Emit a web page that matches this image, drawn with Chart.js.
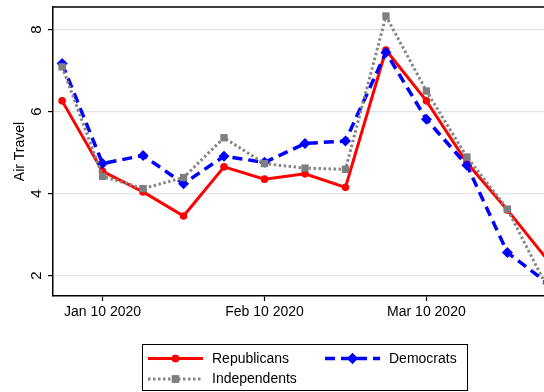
<!DOCTYPE html>
<html>
<head>
<meta charset="utf-8">
<script src="https://cdn.jsdelivr.net/npm/chart.js@4.4.1/dist/chart.umd.min.js"></script>
<style>
  html, body { margin: 0; padding: 0; background: #fff; overflow: hidden; }
  #wrap { width: 575px; height: 392px; }
</style>
</head>
<body>
<div id="wrap"><canvas id="chart" width="575" height="392"></canvas></div>
<script>
// Survey period index (x) and mean air-travel score per party
const periods = [0, 1, 2, 3, 4, 5, 6, 7, 8, 9, 10, 11, 12];
const republicans  = [6.26, 4.54, 4.04, 3.45, 4.65, 4.35, 4.48, 4.15, 7.50, 6.26, 4.75, 3.60, 2.37];
const democrats    = [7.17, 4.73, 4.93, 4.24, 4.91, 4.76, 5.22, 5.28, 7.44, 5.81, 4.69, 2.56, 1.81];
const independents = [7.09, 4.42, 4.12, 4.39, 5.36, 4.73, 4.62, 4.59, 8.33, 6.50, 4.89, 3.62, 1.68];

// Axis ticks
const dateTickPeriods = [1, 5, 9];
const dateTickLabels = ['Jan 10 2020', 'Feb 10 2020', 'Mar 10 2020'];
const airTravelTicks = [2, 4, 6, 8];

const FONT = "'Liberation Sans', Arial, Helvetica, sans-serif";

function toPoints(values) {
  return periods.map((p, i) => ({ x: p, y: values[i] }));
}

const datasets = [
  {
    label: 'Republicans',
    data: toPoints(republicans),
    borderColor: '#ff0000',
    backgroundColor: '#ff0000',
    borderWidth: 3,
    pointStyle: 'circle',
    pointRadius: 3.8,
    pointBorderWidth: 0,
    order: 3
  },
  {
    label: 'Democrats',
    data: toPoints(democrats),
    borderColor: '#0000ff',
    backgroundColor: '#0000ff',
    borderWidth: 3.5,
    borderDash: [10, 6],
    pointStyle: 'rectRot',
    pointRadius: 5.5,
    pointBorderWidth: 0,
    order: 2
  },
  {
    label: 'Independents',
    data: toPoints(independents),
    borderColor: '#868686',
    backgroundColor: '#7f7f7f',
    borderWidth: 3,
    borderDash: [2.5, 2.5],
    pointStyle: 'rect',
    pointRadius: 5.2,
    pointBorderWidth: 0,
    order: 1
  }
];

// Top edge of the plot frame
const framePlugin = {
  id: 'frame',
  afterDatasetsDraw(chart) {
    const { ctx, chartArea } = chart;
    ctx.save();
    ctx.strokeStyle = '#000';
    ctx.lineWidth = 1.5;
    ctx.beginPath();
    ctx.moveTo(chartArea.left, chartArea.top);
    ctx.lineTo(chartArea.right, chartArea.top);
    ctx.stroke();
    ctx.restore();
  }
};

// Boxed two-column legend under the plot
const boxLegendPlugin = {
  id: 'boxLegend',
  afterDraw(chart) {
    const ctx = chart.ctx;
    const box = { x: 142.5, y: 344.5, w: 325, h: 46 };
    const colX = [148, 325];
    const rowY = [358.5, 379];
    const sampleW = 55;
    const slots = [[0, 0], [1, 0], [0, 1]];
    ctx.save();
    ctx.strokeStyle = '#000';
    ctx.lineWidth = 1;
    ctx.strokeRect(box.x, box.y, box.w, box.h);
    chart.data.datasets.forEach((ds, i) => {
      const [c, r] = slots[i];
      const x0 = colX[c], y = rowY[r];
      ctx.save();
      ctx.strokeStyle = ds.borderColor;
      ctx.lineWidth = ds.borderWidth;
      ctx.setLineDash(ds.borderDash || []);
      ctx.beginPath();
      ctx.moveTo(x0, y);
      ctx.lineTo(x0 + sampleW, y);
      ctx.stroke();
      ctx.restore();
      ctx.fillStyle = ds.backgroundColor;
      Chart.helpers.drawPoint(ctx, {
        pointStyle: ds.pointStyle,
        radius: ds.pointRadius,
        rotation: 0,
        borderWidth: 0
      }, x0 + sampleW / 2, y);
      ctx.fill();
      ctx.fillStyle = '#000';
      ctx.font = '14px ' + FONT;
      ctx.textBaseline = 'middle';
      ctx.textAlign = 'left';
      ctx.fillText(ds.label, x0 + sampleW + 9, y + 0.5);
    });
    ctx.restore();
  }
};

function noEdgePadding(scale) {
  scale.paddingTop = 0;
  scale.paddingBottom = 0;
  scale.paddingLeft = 0;
  scale.paddingRight = 0;
}

new Chart(document.getElementById('chart'), {
  type: 'line',
  data: { datasets },
  options: {
    responsive: false,
    animation: false,
    layout: { padding: { top: 7, right: 15, bottom: 0, left: 0 } },
    plugins: {
      legend: { display: false },
      tooltip: { enabled: false }
    },
    scales: {
      x: {
        type: 'linear',
        min: -0.225,
        max: 12.3,
        afterBuildTicks(scale) {
          scale.ticks = dateTickPeriods.map(v => ({ value: v }));
        },
        afterFit(scale) { scale.height = 96; noEdgePadding(scale); },
        grid: {
          drawOnChartArea: false,
          tickLength: 5,
          tickColor: '#000',
          tickWidth: 1.2
        },
        border: { display: true, color: '#000', width: 1.5 },
        ticks: {
          autoSkip: false,
          maxRotation: 0,
          padding: 3,
          color: '#000',
          font: { family: FONT, size: 14 },
          callback(value) {
            const k = dateTickPeriods.indexOf(value);
            return k >= 0 ? dateTickLabels[k] : '';
          }
        }
      },
      y: {
        type: 'linear',
        min: 1.5,
        max: 8.55,
        afterBuildTicks(scale) {
          scale.ticks = airTravelTicks.map(v => ({ value: v }));
        },
        afterFit(scale) { scale.width = 53; noEdgePadding(scale); },
        grid: {
          color: '#e4e4e4',
          lineWidth: 1.2,
          tickLength: 5,
          tickColor: '#000',
          tickWidth: 1.2
        },
        border: { display: true, color: '#000', width: 1.5 },
        title: {
          display: true,
          text: 'Air Travel',
          color: '#000',
          font: { family: FONT, size: 14 },
          padding: { top: 12, bottom: 0 }
        },
        ticks: {
          minRotation: 90,
          maxRotation: 90,
          crossAlign: 'center',
          padding: 7,
          color: '#000',
          font: { family: FONT, size: 15 }
        }
      }
    }
  },
  plugins: [framePlugin, boxLegendPlugin]
});
</script>
</body>
</html>
